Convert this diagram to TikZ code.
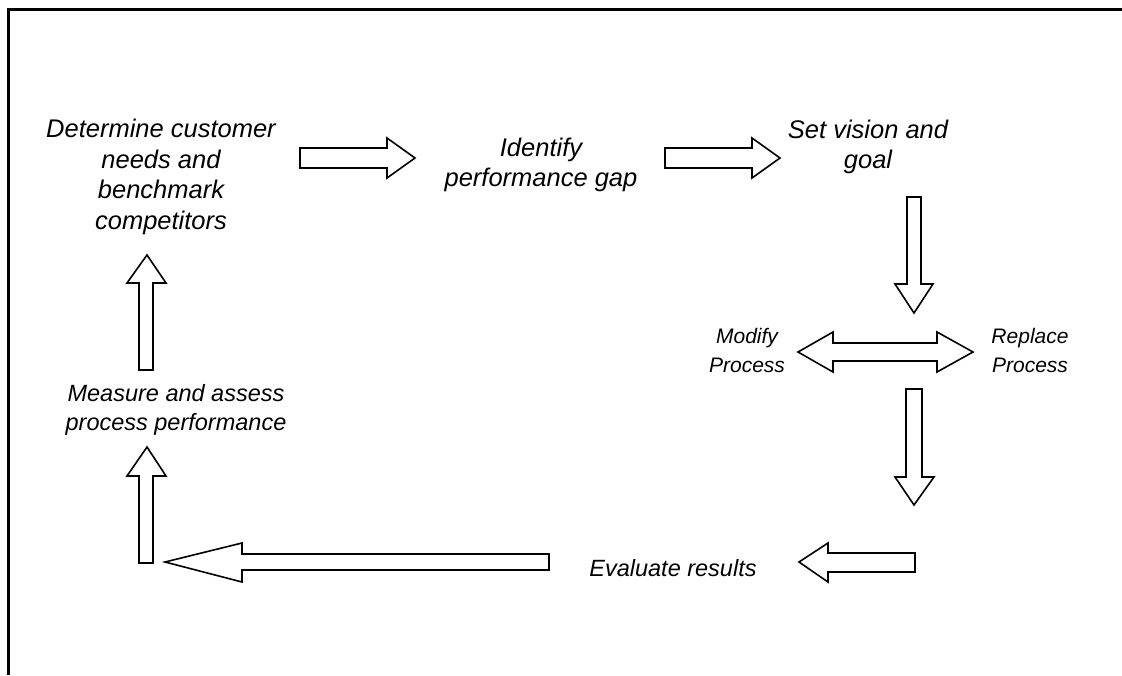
\documentclass[tikz,border=0pt]{standalone}
\usepackage{fontspec}
\setmainfont{Liberation Sans}
\begin{document}
\begin{tikzpicture}[x=1pt,y=-1pt,
  blk/.style={draw=black,line width=1.6pt,line join=miter,fill=white},
  big/.style={align=center,font=\fontsize{25.5}{30.5}\selectfont\itshape,inner sep=0pt},
  mid/.style={align=center,font=\fontsize{23.5}{29}\selectfont\itshape,inner sep=0pt},
  small/.style={align=center,font=\fontsize{21}{29}\selectfont\itshape,inner sep=0pt}]
\useasboundingbox (0,0) rectangle (1122,675);
\fill[white] (0,0) rectangle (1122,675);
% frame
\draw[line width=3pt] (1122,9) -- (8,9) -- (8,675);
% texts
\node[big] (det) at (161,177) {Determine customer\\needs and\\benchmark\\competitors};
\node[big] (idg) at (541,165) {Identify\\performance gap};
\node[big] (svg) at (868,147) {Set vision and\\goal};
\node[small] (mod) at (747,350) {Modify\\Process};
\node[small] (rep) at (1030,350) {Replace\\Process};
\node[mid] (mea) at (176,410) {Measure and assess\\process performance};
\node[mid] (eva) at (673,568) {Evaluate results};
% block arrows
\draw[blk] (300,148) -- (387,148) -- (387,138) -- (415,158) -- (387,178) -- (387,168) -- (300,168) -- cycle;
\draw[blk] (665,148) -- (752,148) -- (752,138) -- (780,158) -- (752,178) -- (752,168) -- (665,168) -- cycle;
\draw[blk] (907,197) -- (921,197) -- (921,284) -- (933,284) -- (914,313) -- (895,284) -- (907,284) -- cycle;
\draw[blk] (798,352) -- (833,332) -- (833,343) -- (937,343) -- (937,332) -- (973,352) -- (937,372) -- (937,361) -- (833,361) -- (833,372) -- cycle;
\draw[blk] (906,389) -- (922,389) -- (922,477) -- (934,477) -- (914,505) -- (895,477) -- (906,477) -- cycle;
\draw[blk] (915,553) -- (828,553) -- (828,543) -- (799,562) -- (828,582) -- (828,572) -- (915,572) -- cycle;
\draw[blk] (549,554) -- (242,554) -- (242,543) -- (165,562) -- (242,582) -- (242,570) -- (549,570) -- cycle;
\draw[blk] (139,563) -- (139,476) -- (127,476) -- (147,447) -- (166,476) -- (153,476) -- (153,563) -- cycle;
\draw[blk] (139,370) -- (139,283) -- (127,283) -- (147,255) -- (166,283) -- (153,283) -- (153,370) -- cycle;
\end{tikzpicture}
\end{document}
